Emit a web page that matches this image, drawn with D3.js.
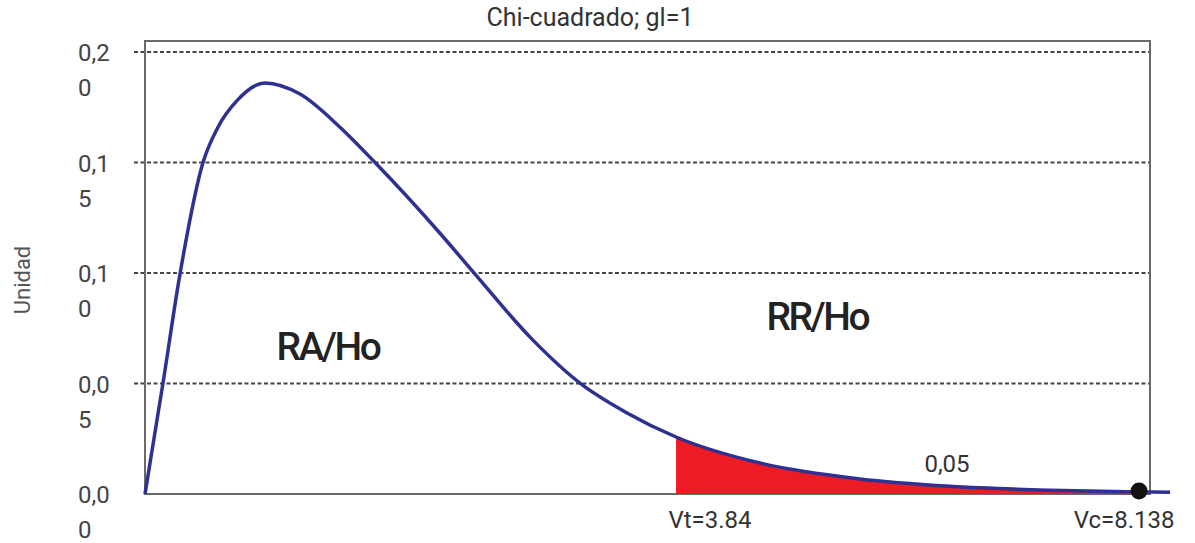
<!DOCTYPE html>
<html>
<head>
<meta charset="utf-8">
<script src="https://cdn.jsdelivr.net/npm/d3@7/dist/d3.min.js"></script>
<style>
  body { margin: 0; background: #fff; }
  svg text { font-family: Roboto, "Noto Sans", sans-serif; }
</style>
</head>
<body>
<div id="chart"></div>
<script>
// curve (x in plot units 0..10, y = density)
const curveX = [0, 0.179, 0.348, 0.577, 0.726, 0.915, 1.194, 1.542, 1.94, 2.289, 2.935, 3.284, 3.831, 4.328, 4.796, 5.284, 6.119, 7.114, 8.01, 9.005, 9.891, 10.2];
const curveY = [0, 0.0502, 0.0995, 0.15, 0.166, 0.178, 0.186, 0.181, 0.166, 0.15, 0.118, 0.0995, 0.071, 0.0502, 0.0367, 0.0258, 0.014, 0.0068, 0.0035, 0.0017, 0.0009, 0.0008];

const yTicks = [0, 0.05, 0.10, 0.15, 0.20];
const yTickLabels = [["0,0", "0"], ["0,0", "5"], ["0,1", "0"], ["0,1", "5"], ["0,2", "0"]];

const criticalX = [5.284, 9.891];
const criticalLabels = ["Vt=3.84", "Vc=8.138"];

const regionLabels = ["RA/Ho", "RR/Ho"];
const alphaLabel = "0,05";

const title = "Chi-cuadrado; gl=1";
const yTitle = "Unidad";

const width = 1195, height = 543;
const margin = { left: 145, right: 45, top: 41, bottom: 49 };

const svg = d3.select("#chart").append("svg")
    .attr("width", width)
    .attr("height", height);

const x = d3.scaleLinear().domain([0, 10]).range([margin.left, width - margin.right]);
const y = d3.scaleLinear().domain([0, 0.205]).range([height - margin.bottom, margin.top]);

const points = curveX.map((d, i) => ({ x: d, y: curveY[i] }));

// title
svg.append("text")
    .attr("x", 590)
    .attr("y", 26)
    .attr("text-anchor", "middle")
    .attr("fill", "#333")
    .style("font-size", "25px")
    .text(title);

// y title
svg.append("text")
    .attr("transform", "translate(30," + 280 + ") rotate(-90)")
    .attr("text-anchor", "middle")
    .attr("fill", "#555")
    .style("font-size", "22px")
    .text(yTitle);

// gridlines (dashed)
svg.append("g")
    .selectAll("line")
    .data(yTicks.filter(d => d > 0))
    .join("line")
    .attr("x1", margin.left - 11)
    .attr("x2", x(10))
    .attr("y1", d => y(d))
    .attr("y2", d => y(d))
    .attr("stroke", "#444")
    .attr("stroke-width", 2)
    .attr("stroke-dasharray", "4,2.5");

// tick labels, wrapped over two lines
const tickG = svg.append("g")
    .selectAll("text")
    .data(yTicks)
    .join("text")
    .attr("x", 78)
    .attr("y", d => y(d) + 9)
    .attr("fill", "#444")
    .style("font-size", "24px");

tickG.each(function(d, i) {
    const t = d3.select(this);
    yTickLabels[i].forEach((line, j) => {
        t.append("tspan")
            .attr("x", 78)
            .attr("dy", j === 0 ? 0 : 35)
            .text(line);
    });
});

// plot box
svg.append("rect")
    .attr("x", margin.left)
    .attr("y", margin.top)
    .attr("width", x(10) - margin.left)
    .attr("height", y(0) - margin.top)
    .attr("fill", "none")
    .attr("stroke", "#6a6a6a")
    .attr("stroke-width", 2);

// red rejection area
const tail = points.filter(d => d.x >= criticalX[0] && d.x <= criticalX[1]);
const area = d3.area()
    .x(d => x(d.x))
    .y0(y(0))
    .y1(d => y(d.y))
    .curve(d3.curveMonotoneX);

svg.append("path")
    .datum(tail)
    .attr("d", area)
    .attr("fill", "#ed1c24");

// density curve
const line = d3.line()
    .x(d => x(d.x))
    .y(d => y(d.y))
    .curve(d3.curveMonotoneX);

svg.append("path")
    .datum(points)
    .attr("d", line)
    .attr("fill", "none")
    .attr("stroke", "#2e3192")
    .attr("stroke-width", 3.5);

// critical value dot
svg.append("circle")
    .attr("cx", x(criticalX[1]))
    .attr("cy", y(curveY[curveX.indexOf(criticalX[1])]) - 1)
    .attr("r", 8.5)
    .attr("fill", "#111");

// critical labels
const labelDx = [34, -15];
svg.append("g")
    .selectAll("text")
    .data(criticalLabels)
    .join("text")
    .attr("x", (d, i) => x(criticalX[i]) + labelDx[i])
    .attr("y", 528)
    .attr("text-anchor", "middle")
    .attr("fill", "#333")
    .style("font-size", "24px")
    .text(d => d);

// region labels
const regionPos = [[1.82, 0.0606], [6.69, 0.0742]];
svg.append("g")
    .selectAll("text")
    .data(regionLabels)
    .join("text")
    .attr("x", (d, i) => x(regionPos[i][0]))
    .attr("y", (d, i) => y(regionPos[i][1]))
    .attr("text-anchor", "middle")
    .attr("fill", "#222")
    .style("font-size", "39px")
    .style("font-weight", "500")
    .style("letter-spacing", "-2.5px")
    .text(d => d);

// alpha label
svg.append("text")
    .attr("x", x(7.98))
    .attr("y", y(0.0099))
    .attr("text-anchor", "middle")
    .attr("fill", "#333")
    .style("font-size", "24px")
    .text(alphaLabel);
</script>
</body>
</html>
